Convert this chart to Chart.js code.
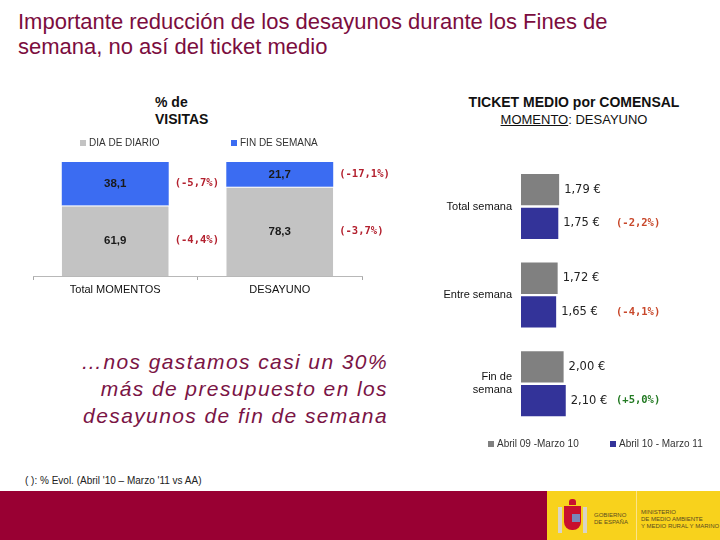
<!DOCTYPE html>
<html>
<head>
<meta charset="utf-8">
<script src="https://cdn.jsdelivr.net/npm/chart.js@4.4.1/dist/chart.umd.min.js"></script>
<style>
    body { margin: 0; width: 720px; height: 540px; position: relative; overflow: hidden; background: #fff; font-family: "Liberation Sans", Arial, sans-serif; }
    .abs { position: absolute; }
    #title { left: 18px; top: 9px; font-size: 22px; line-height: 25px; color: #7b0d3e; }
    #visitTitle { left: 155px; top: 94px; font-size: 14px; font-weight: bold; line-height: 17px; color: #111; }
    #ticketTitle { left: 430px; width: 288px; top: 94px; text-align: center; font-size: 13px; line-height: 17px; color: #111; }
    #ticketTitle b { font-size: 14px; }
    #claim { left: 40px; width: 348px; top: 348px; text-align: right; font-size: 21px; line-height: 27px; font-style: italic; letter-spacing: 1.4px; color: #7a1445; }
    #note { left: 25px; top: 475px; font-size: 10px; color: #222; }
    #band { left: 0; top: 491px; width: 720px; height: 49px; background: #990033; }
    #yellow { left: 547px; top: 491px; width: 173px; height: 49px; background: #f8d21c; }
    #sep { left: 636px; top: 491px; width: 1px; height: 49px; background: #fbe38a; }
    .tiny { font-size: 6px; line-height: 7px; color: #5a4a20; }
    canvas { position: absolute; }
</style>
</head>
<body>
<div id="title" class="abs">Importante reducción de los desayunos durante los Fines de<br>semana, no así del ticket medio</div>
<div id="visitTitle" class="abs">% de<br>VISITAS</div>
<div id="ticketTitle" class="abs"><b>TICKET MEDIO por COMENSAL</b><br><u>MOMENTO</u>: DESAYUNO</div>
<div id="claim" class="abs">…nos gastamos casi un 30%<br>más de presupuesto en los<br>desayunos de fin de semana</div>
<div id="note" class="abs">( ): % Evol. (Abril '10 – Marzo '11 vs AA)</div>
<div id="band" class="abs"></div>
<div id="yellow" class="abs"></div>
<div id="sep" class="abs"></div>
<div class="abs" style="left:569px;top:499px;width:7px;height:6px;background:#c8102e;border-radius:3px 3px 0 0;"></div>
<div class="abs" style="left:558px;top:507px;width:4px;height:26px;background:#d9d4c8;"></div>
<div class="abs" style="left:583px;top:507px;width:4px;height:26px;background:#d9d4c8;"></div>
<div class="abs" style="left:564px;top:506px;width:17px;height:24px;background:#c8102e;border-radius:0 0 8px 8px;"></div>
<div class="abs" style="left:572px;top:514px;width:8px;height:8px;background:#7a86b8;"></div>
<div class="abs tiny" style="left:594px;top:512px;">GOBIERNO<br>DE ESPAÑA</div>
<div class="abs tiny" style="left:641px;top:509px;">MINISTERIO<br>DE MEDIO AMBIENTE<br>Y MEDIO RURAL Y MARINO</div>

<canvas id="visitChart" width="410" height="170" style="left:0;top:130px;"></canvas>
<canvas id="ticketChart" width="290" height="320" style="left:430px;top:140px;"></canvas>

<script>
// % de visitas (stacked)
const visitCategories = ['Total MOMENTOS', 'DESAYUNO'];
const visitLegend = ['DIA DE DIARIO', 'FIN DE SEMANA'];
const visitDiario = [61.9, 78.3];
const visitFinde = [38.1, 21.7];
const visitDiarioEvol = ['(-4,4%)', '(-3,7%)'];
const visitFindeEvol = ['(-5,7%)', '(-17,1%)'];

// ticket medio por comensal (euros)
const ticketCategories = ['Total semana', 'Entre semana', ['Fin de', 'semana']];
const ticketLegend = ['Abril 09 -Marzo 10', 'Abril 10 - Marzo 11'];
const ticketPrev = [1.79, 1.72, 2.00];
const ticketCurr = [1.75, 1.65, 2.10];
const ticketEvol = ['(-2,2%)', '(-4,1%)', '(+5,0%)'];
const ticketEvolColors = ['#c8472a', '#c8472a', '#237a23'];

Chart.defaults.font.family = '"Liberation Sans", Arial, sans-serif';

// leyenda propia: cuadrado + texto en posiciones fijas
function squareLegend(y, xs) {
    return {
        id: 'squareLegend',
        afterDraw(chart) {
            const ctx = chart.ctx;
            ctx.save();
            ctx.font = '10px "Liberation Sans", Arial, sans-serif';
            ctx.textBaseline = 'middle';
            ctx.textAlign = 'left';
            chart.data.datasets.forEach((ds, i) => {
                ctx.fillStyle = ds.backgroundColor;
                ctx.fillRect(xs[i], y - 3, 6, 6);
                ctx.fillStyle = '#333';
                ctx.fillText(ds.label, xs[i] + 9, y);
            });
            ctx.restore();
        }
    };
}

const visitText = {
    id: 'visitText',
    afterDatasetsDraw(chart) {
        const ctx = chart.ctx;
        ctx.save();
        ctx.textBaseline = 'middle';
        chart.data.datasets.forEach((ds, di) => {
            chart.getDatasetMeta(di).data.forEach((bar, i) => {
                const p = bar.getProps(['x', 'y', 'base', 'width'], true);
                const cy = (p.y + p.base) / 2;
                ctx.font = 'bold 11.5px "Liberation Sans", Arial, sans-serif';
                ctx.fillStyle = '#1a1a1a';
                ctx.textAlign = 'center';
                ctx.fillText(ds.data[i].toFixed(1).replace('.', ','), p.x, cy);
                ctx.font = 'bold 10.5px "DejaVu Sans Mono", monospace';
                ctx.fillStyle = '#b3202e';
                ctx.textAlign = 'left';
                ctx.fillText(ds.evol[i], p.x + p.width / 2 + 6, cy);
            });
        });
        ctx.restore();
    }
};

new Chart(document.getElementById('visitChart'), {
    type: 'bar',
    data: {
        labels: visitCategories,
        datasets: [
            {
                label: visitLegend[0],
                data: visitDiario,
                evol: visitDiarioEvol,
                backgroundColor: '#c3c3c3',
                borderColor: '#ffffff',
                borderWidth: { top: 1 },
                barPercentage: 0.65,
                categoryPercentage: 1
            },
            {
                label: visitLegend[1],
                data: visitFinde,
                evol: visitFindeEvol,
                backgroundColor: '#3b6cf2',
                barPercentage: 0.65,
                categoryPercentage: 1
            }
        ]
    },
    options: {
        responsive: false,
        animation: false,
        layout: { padding: { left: 33, right: 48, top: 32, bottom: 0 } },
        plugins: {
            legend: { display: false },
            tooltip: { enabled: false }
        },
        scales: {
            x: {
                stacked: true,
                grid: { display: true, drawOnChartArea: false, tickLength: 4, color: '#a8a8a8' },
                border: { display: true, color: '#b8b8b8' },
                ticks: { color: '#111', font: { size: 11 }, padding: 3 },
                afterFit(scale) { scale.height = 24; }
            },
            y: {
                stacked: true,
                display: false,
                min: 0,
                max: 100
            }
        }
    },
    plugins: [visitText, squareLegend(13, [80, 231])]
});

const ticketText = {
    id: 'ticketText',
    afterDatasetsDraw(chart) {
        const ctx = chart.ctx;
        ctx.save();
        ctx.textBaseline = 'middle';
        ctx.textAlign = 'left';
        chart.data.datasets.forEach((ds, di) => {
            chart.getDatasetMeta(di).data.forEach((bar, i) => {
                const p = bar.getProps(['x', 'y'], true);
                ctx.font = '11.5px "DejaVu Sans", sans-serif';
                ctx.fillStyle = '#222';
                ctx.fillText(ds.data[i].toFixed(2).replace('.', ',') + ' €', p.x + 5, p.y);
                if (di === 1) {
                    ctx.font = 'bold 10.5px "DejaVu Sans Mono", monospace';
                    ctx.fillStyle = ticketEvolColors[i];
                    ctx.fillText(ticketEvol[i], chart.chartArea.left + 95, p.y);
                }
            });
        });
        ctx.restore();
    }
};

new Chart(document.getElementById('ticketChart'), {
    type: 'bar',
    data: {
        labels: ticketCategories,
        datasets: [
            {
                label: ticketLegend[0],
                data: ticketPrev,
                backgroundColor: '#808080',
                barPercentage: 0.93,
                categoryPercentage: 0.76
            },
            {
                label: ticketLegend[1],
                data: ticketCurr,
                backgroundColor: '#333399',
                barPercentage: 0.93,
                categoryPercentage: 0.76
            }
        ]
    },
    options: {
        indexAxis: 'y',
        responsive: false,
        animation: false,
        layout: { padding: { left: 0, right: 20, top: 11, bottom: 32 } },
        plugins: {
            legend: { display: false },
            tooltip: { enabled: false }
        },
        scales: {
            x: { display: false, min: 0, max: 8.4 },
            y: {
                grid: { display: false, drawTicks: false },
                border: { display: false },
                ticks: { color: '#111', font: { size: 11 }, padding: 9 },
                afterFit(scale) { scale.width = 91; }
            }
        }
    },
    plugins: [ticketText, squareLegend(304, [58, 180])]
});
</script>
</body>
</html>
